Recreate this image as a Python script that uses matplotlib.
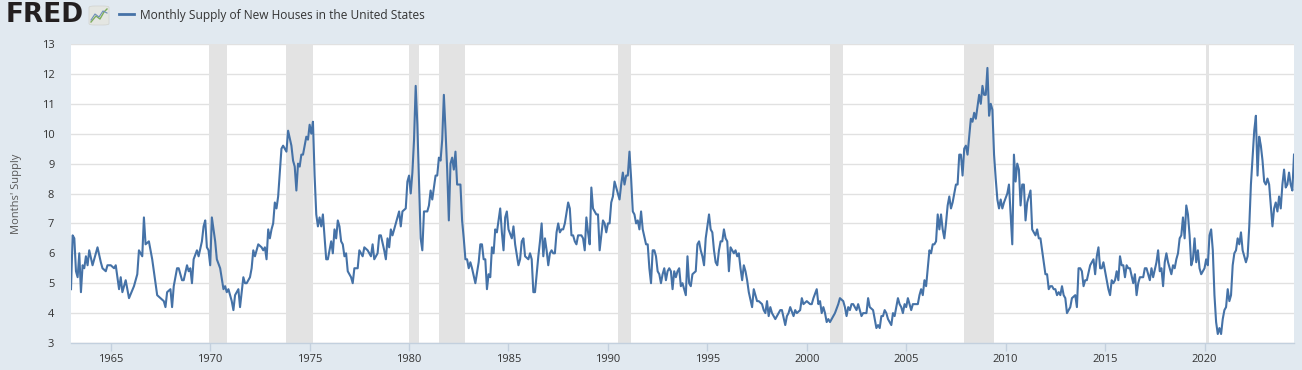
import numpy as np
import matplotlib
matplotlib.use('Agg')
import matplotlib.pyplot as plt
from matplotlib.lines import Line2D
from matplotlib.patches import FancyBboxPatch

# months since Jan 1963, months' supply
months = [0, 1, 2, 3, 4, 5, 6, 7, 8, 9, 10, 11, 13, 16, 18, 19, 21, 22, 24, 26, 27, 29, 30, 31, 33, 35,
          38, 40, 41, 43, 44, 45, 47, 49, 52, 54, 56, 57, 58, 60, 61, 62, 64, 65, 67, 68, 70, 71, 72, 73,
          74, 76, 77, 79, 80, 81, 82, 83, 84, 85, 87, 88, 90, 92, 93, 94, 95, 97, 98, 99, 101, 102, 104,
          105, 106, 108, 109, 110, 111, 112, 113, 115, 116, 117, 118, 119, 120, 121, 122, 123, 124, 125,
          127, 128, 130, 131, 133, 134, 135, 136, 137, 138, 139, 140, 142, 143, 144, 145, 146, 147, 148,
          149, 150,
          151, 152, 154, 155, 157, 158, 159, 160, 161, 162, 163, 164, 165, 166, 167, 169, 170, 171, 173,
          174, 176, 177, 179, 181, 182, 183, 185, 186, 187, 189, 190, 191, 192, 193, 194, 196, 198, 199,
          200, 202, 203, 204, 205, 206, 207, 208, 209, 211, 212, 213, 215, 216, 217, 218, 219, 220, 221,
          222, 223, 224, 225, 226, 227, 228, 229, 230, 231, 232, 233, 234, 235, 236, 237, 238, 239, 240,
          241, 242, 244, 246, 247, 248, 249, 250, 251, 252, 253, 254, 255, 256, 257, 259, 260, 261, 262,
          263, 264, 266, 267, 268, 270, 271, 272, 273, 274, 276, 277, 278, 279, 280, 281, 282, 283, 284,
          285, 286, 287, 288, 289, 290, 291, 292, 293, 294, 295,
          296, 297, 298, 300, 301, 302, 303, 304, 305, 306, 308, 309, 310, 311, 312, 313, 314, 315, 317,
          318, 319, 320, 321, 322, 323, 324, 325, 326, 327, 328, 329, 330, 331, 332, 333, 334, 335, 336,
          337, 338, 339, 340, 341, 342, 343, 344, 345, 347, 348, 349, 350, 351, 352, 353, 354, 355, 356,
          357, 358, 359, 360, 361, 362, 363, 364, 365, 366, 367, 368, 369, 371, 372, 373, 374, 375, 377,
          378, 379, 380, 381, 382, 383, 384, 385, 386, 387, 388, 389, 390, 391, 392, 393, 394, 395, 396,
          397, 398, 400, 401, 402, 403, 404, 405, 406, 407, 408, 409, 411, 412, 413, 414, 415, 417, 418,
          419, 420, 421, 422, 423, 424, 425, 427, 428, 429, 431, 432, 433, 434, 436, 437, 438, 440,
          441, 442, 444, 446, 447, 448, 450, 451, 452, 453, 454, 455, 456, 457, 458, 460, 461, 463, 464,
          466, 467, 468, 469, 470, 471, 472, 474, 475, 476, 477, 478, 480, 481, 482, 484, 485, 486, 487,
          488, 489, 490, 491, 492, 493, 495, 496, 497, 499, 500, 501, 502, 503, 504, 505, 507, 508, 509,
          511, 512, 513, 514, 515, 516, 517, 518, 519, 520, 521, 522, 523, 524, 525, 526, 527, 528, 529,
          530, 531, 532, 534, 535, 536, 537, 538, 539, 540, 541, 543, 544, 545, 546, 548, 549, 550, 551,
          552, 553, 554, 555, 556, 557, 558, 559, 560, 561, 562, 563, 565, 566, 568, 569, 570, 571, 572,
          573, 574, 575, 576, 577, 579, 580, 581, 582, 583, 584,
          585, 586, 587, 588, 589, 590, 591, 592, 593, 594, 595, 596, 597, 598, 599, 600, 601, 602, 603,
          604, 606, 607, 608, 609, 610, 611, 612, 613, 615, 616, 617, 618, 619, 620, 621, 622, 623, 625,
          626, 627, 628, 629, 630, 631, 632, 633, 634, 635, 636, 637, 638, 639, 641, 642, 643, 644, 645,
          647, 648, 649, 650, 651, 652, 653, 655, 656, 657, 658, 659, 660, 661, 662, 664, 665, 666, 667,
          668, 669, 670, 671, 672, 673, 674, 675, 676, 677, 678, 679, 680, 681, 682, 683, 684, 685, 686,
          687, 688, 689, 690, 691, 692, 693, 694, 695, 696, 697, 698, 699, 700, 701, 702, 703, 704, 705,
          706, 707, 708, 709, 710, 711, 712, 713, 714, 715, 716, 717, 718, 719, 720, 721, 722, 723, 724,
          725, 726, 727, 728, 729, 730, 731, 732, 733, 734, 735, 736, 737, 738]

supply = [4.8, 6.6, 6.5, 5.4, 5.2, 6.0, 4.7, 5.6, 5.5, 5.9, 5.6, 6.1, 5.6, 6.2, 5.7, 5.5, 5.4, 5.6, 5.6, 5.5,
          5.6, 4.8, 5.2, 4.7, 5.1, 4.5, 4.9, 5.3, 6.1, 5.9, 7.2, 6.3, 6.4, 5.8, 4.6, 4.5, 4.4, 4.2, 4.7,
          4.8, 4.2, 4.9, 5.5, 5.5, 5.1, 5.1, 5.6, 5.4, 5.5, 5.0, 5.8, 6.1, 5.9, 6.4, 6.9, 7.1, 6.2, 6.1,
          5.6, 7.2, 6.4, 5.8, 5.5, 4.8, 4.9, 4.7, 4.8, 4.4, 4.1, 4.6, 4.8, 4.2, 5.2, 5.0, 5.0, 5.2, 5.5,
          6.1, 5.9, 6.1, 6.3, 6.2, 6.1, 6.2, 5.8, 6.8, 6.5, 6.8, 7.0, 7.7, 7.5, 7.9, 9.5, 9.6, 9.4, 10.1,
          9.6, 9.1, 8.9, 8.1, 9.0, 8.9, 9.3, 9.3, 9.9, 9.8, 10.3, 10.0, 10.4, 8.6, 7.3, 6.9, 7.2,
          6.9, 7.3, 5.8, 5.8, 6.4, 6.0, 6.8, 6.5, 7.1, 6.9, 6.4, 6.3, 5.9, 6.0, 5.4, 5.2, 5.0, 5.5, 5.5,
          6.1, 5.9, 6.2, 6.1, 5.9, 6.3, 5.8, 6.0, 6.6, 6.6, 6.1, 5.8, 6.5, 6.2, 6.8, 6.6, 7.0, 7.4, 6.9,
          7.4, 7.5, 8.4, 8.6, 8.0, 8.7, 9.8, 11.6, 10.3, 6.5, 6.1, 7.4, 7.4, 7.6, 8.1, 7.8, 8.2, 8.6, 8.6,
          9.2, 9.1, 9.8, 11.3, 10.1, 8.8, 7.1, 9.0, 9.2, 8.8, 9.4, 8.3, 8.3, 8.3, 7.1, 6.5, 5.8, 5.8, 5.5,
          5.7, 5.5, 5.0, 5.7, 6.3, 6.3, 5.8, 5.8, 4.8, 5.3, 5.2, 6.2, 6.0, 6.8, 6.7, 7.5, 6.7, 6.1, 7.2,
          7.4, 6.8, 6.5, 6.9, 6.3, 5.6, 5.8, 6.4, 6.5, 5.9, 5.8, 6.0, 5.8, 4.7, 4.7, 5.3, 5.9, 6.4, 7.0,
          5.9, 6.5, 6.1, 5.6, 6.0, 6.1, 6.0, 6.0, 6.7, 7.0, 6.7,
          6.8, 6.8, 7.0, 7.7, 7.5, 6.6, 6.6, 6.4, 6.3, 6.6, 6.6, 6.5, 6.1, 7.2, 6.7, 6.3, 8.2, 7.5, 7.3,
          7.3, 6.1, 6.6, 7.1, 7.0, 6.7, 7.0, 7.0, 7.7, 7.9, 8.4, 8.2, 8.0, 7.8, 8.3, 8.7, 8.3, 8.6, 8.6,
          9.4, 8.5, 7.4, 7.3, 7.0, 7.1, 6.8, 7.4, 6.8, 6.3, 6.3, 5.5, 5.0, 6.1, 6.1, 5.9, 5.4, 5.3, 5.0,
          5.3, 5.5, 5.1, 5.4, 5.5, 5.4, 4.8, 5.4, 5.2, 5.4, 5.5, 4.9, 5.0, 4.6, 5.9, 5.0, 4.9, 5.3, 5.4,
          6.3, 6.4, 6.1, 5.9, 5.6, 6.5, 6.9, 7.3, 6.8, 6.7, 6.1, 5.7, 5.6, 6.1, 6.4, 6.4, 6.8, 6.5, 6.4,
          5.4, 6.2, 6.0, 6.1, 5.9, 6.0, 5.5, 5.1, 5.6, 5.4, 5.1, 4.7, 4.2, 4.8, 4.6, 4.4, 4.4, 4.3, 4.1,
          4.0, 4.4, 3.9, 4.2, 4.0, 3.9, 3.8, 4.0, 4.1, 4.1, 3.6, 3.9, 4.0, 4.2, 3.9, 4.1, 4.0, 4.1,
          4.5, 4.3, 4.4, 4.3, 4.3, 4.5, 4.8, 4.3, 4.4, 4.0, 4.2, 4.0, 3.7, 3.8, 3.7, 3.9, 4.0, 4.3, 4.5,
          4.4, 4.2, 3.9, 4.2, 4.1, 4.3, 4.3, 4.1, 4.3, 4.1, 3.9, 4.0, 4.0, 4.5, 4.2, 4.1, 3.8, 3.5, 3.6,
          3.5, 3.9, 3.9, 4.1, 4.0, 3.8, 3.6, 4.0, 3.9, 4.5, 4.3, 4.2, 4.0, 4.3, 4.2, 4.5, 4.1, 4.3, 4.3,
          4.3, 4.6, 4.8, 4.6, 5.1, 4.9, 5.5, 6.1, 6.0, 6.3, 6.3, 6.4, 7.3, 6.8, 7.3, 6.8, 6.5, 7.0, 7.6,
          7.9, 7.5, 7.7, 8.3, 8.3, 9.3, 9.3, 8.6, 9.5, 9.6, 9.3, 10.5, 10.4, 10.7, 10.5, 11.3, 11.0, 11.6,
          11.3, 11.3, 12.2, 10.6, 11.0, 10.8, 9.3, 8.5, 7.8, 7.5, 7.8, 7.5, 7.7, 8.0, 8.3, 6.3, 9.3, 8.4,
          9.0, 8.8, 7.6, 8.3, 8.3, 7.1, 7.7, 8.1, 6.8, 6.7, 6.6, 6.8, 6.5,
          6.5, 6.1, 5.7, 5.3, 5.3, 4.8, 4.9, 4.9, 4.8, 4.8, 4.6, 4.7, 4.6, 4.9, 4.6, 4.5, 4.0, 4.1, 4.2,
          4.5, 4.6, 4.2, 5.5, 5.5, 5.4, 4.9, 5.1, 5.1, 5.6, 5.7, 5.8, 5.3, 5.9, 6.2, 5.5, 5.5, 5.7, 5.1,
          4.8, 4.6, 5.1, 5.0, 5.1, 5.4, 5.1, 5.9, 5.6, 5.6, 5.2, 5.6, 5.5, 5.5, 5.0, 5.3, 4.6, 5.0, 5.2,
          5.2, 5.5, 5.5, 5.3, 5.1, 5.5, 5.2, 5.7, 6.1, 5.4, 5.5, 4.9, 5.7, 6.0, 5.7, 5.3, 5.6, 5.5, 5.8,
          6.0, 6.5, 6.6, 7.2, 6.5, 7.6, 7.3, 6.6, 5.6, 5.8, 6.5, 5.7, 6.1, 5.5, 5.3, 5.4, 5.5, 5.8, 5.6,
          6.6, 6.8, 6.1, 4.6, 3.7, 3.3, 3.5, 3.3, 3.8, 4.1, 4.2, 4.8, 4.4, 4.6, 5.6, 6.0, 6.1, 6.5, 6.3,
          6.7, 6.1, 5.9, 5.7, 5.9, 6.9, 8.3, 9.2, 10.1, 10.6, 8.6, 9.9, 9.6, 9.1, 8.4, 8.3, 8.5, 8.3, 7.6,
          6.9, 7.5, 7.7, 7.4, 7.9, 7.5, 8.3, 8.8, 8.2, 8.3, 8.7, 8.3, 8.1, 9.3]

# NBER recessions (decimal years)
rec_start = [1969.917, 1973.833, 1980.0, 1981.5, 1990.5, 2001.167, 2007.917, 2020.083]
rec_end = [1970.833, 1975.167, 1980.5, 1982.833, 1991.167, 2001.833, 2009.417, 2020.25]
x_ticks = [1965, 1970, 1975, 1980, 1985, 1990, 1995, 2000, 2005, 2010, 2015, 2020]
y_ticks = list(range(3, 14))

years = 1963 + np.array(months) / 12.0

bg = '#E1E9F0'
blue = '#4572A7'
fig = plt.figure(figsize=(13.02, 3.70), dpi=100, facecolor=bg)
ax = fig.add_axes([71 / 1302, 27 / 370, 1223 / 1302, 299 / 370])
ax.set_facecolor('white')

for a, b in zip(rec_start, rec_end):
    ax.axvspan(a, b, color='#E3E3E3', lw=0, zorder=1)

ax.plot(years, supply, color=blue, lw=1.5, zorder=3, solid_joinstyle='round')

ax.set_xlim(years[0], years[-1])
ax.set_ylim(3, 13)
ax.set_yticks(y_ticks)
ax.set_xticks(x_ticks)
ax.set_xticklabels([str(y) for y in x_ticks])
ax.yaxis.grid(True, color='#E1E1E1', lw=1, zorder=0.5)
ax.set_axisbelow(True)
for s in ['top', 'left', 'right']:
    ax.spines[s].set_visible(False)
ax.spines['bottom'].set_color('#C3D0DE')
ax.spines['bottom'].set_linewidth(1)
ax.tick_params(axis='x', length=6, width=1, color='#C3D0DE', labelsize=8, labelcolor='#333333', pad=2)
ax.tick_params(axis='y', length=0, labelsize=8, labelcolor='#333333', pad=12)
for lab in ax.get_xticklabels() + ax.get_yticklabels():
    lab.set_family('Open Sans')
ax.set_ylabel("Months' Supply", fontsize=8, color='#595959', family='Open Sans', labelpad=14)

# header: FRED logo + legend
fig.text(6 / 1302, 1 - 15 / 370, 'FRED', fontsize=19, weight='bold', family='DejaVu Sans',
         color='#231F20', va='center', ha='left')
icon = FancyBboxPatch((89 / 1302, 1 - 25 / 370), 20 / 1302, 19 / 370, boxstyle='round,pad=0,rounding_size=0.004',
                      transform=fig.transFigure, facecolor='#E4E6E2', edgecolor='#D0D2CE', lw=0.5)
fig.add_artist(icon)
fig.add_artist(Line2D([91 / 1302, 96 / 1302, 100 / 1302, 104 / 1302, 107 / 1302],
                      [1 - 22 / 370, 1 - 16 / 370, 1 - 19 / 370, 1 - 12 / 370, 1 - 9 / 370],
                      color='#7FAE5C', lw=1))
fig.add_artist(Line2D([91 / 1302, 95 / 1302, 99 / 1302, 103 / 1302, 107 / 1302],
                      [1 - 20 / 370, 1 - 14 / 370, 1 - 17 / 370, 1 - 11 / 370, 1 - 13 / 370],
                      color='#6F8FB8', lw=0.8))
fig.add_artist(Line2D([119 / 1302, 134 / 1302], [1 - 14 / 370, 1 - 14 / 370], color=blue, lw=2))
fig.text(140 / 1302, 1 - 15 / 370, 'Monthly Supply of New Houses in the United States', fontsize=8.6,
         family='Open Sans', color='#333333', va='center', ha='left')

fig.savefig('out.png', dpi=100, facecolor=bg)
